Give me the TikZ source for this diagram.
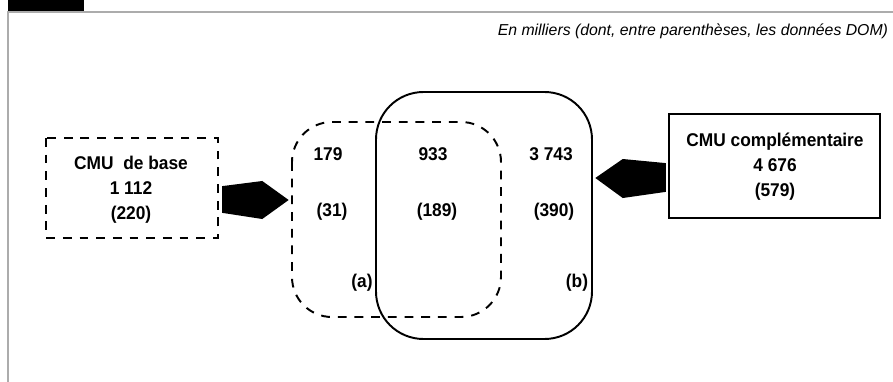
\documentclass[tikz,border=0pt]{standalone}
\usepackage{fontspec}
\setmainfont{Liberation Sans}
\newfontfamily\cmufont[FakeStretch=0.94]{Liberation Sans}
\usetikzlibrary{calc}

\tikzset{
  chiffre/.style={font=\cmufont\bfseries\fontsize{10.5}{14.2}\selectfont,align=center,inner sep=0pt},
  pointille/.style={dash pattern=on 5pt off 4.5pt},
  fleche/.style={fill=black,draw=black,line join=miter}
}

\begin{document}
\begin{tikzpicture}[x=0.02cm,y=-0.02cm,line width=1.1pt]
		\useasboundingbox (0,0) rectangle (893,382);
		% cadre
		\fill (8,0) rectangle (84,11);
		\draw[gray!65,line width=1pt] (8,382)--(8,12)--(893,12);
		\node[anchor=base east,inner sep=0pt,font=\itshape\fontsize{9}{11}\selectfont] (unite) at (889,35) {En milliers (dont, entre parenthèses, les données DOM)};
		% ensembles
		\draw[pointille,rounded corners=0.8cm] (292,122) rectangle (501,317);
		\draw[rounded corners=0.95cm] (376,92) rectangle (592,339);
		% boites
		\draw[pointille] (46,138) rectangle (218,238);
		\node[chiffre] (base) at (131,189.5) {CMU\ \ de base\\1 112\\(220)};
		\draw (669,114) rectangle (880,218);
		\node[chiffre] (compl) at (775,166.5) {CMU complémentaire\\4 676\\(579)};
		% fleches
		\draw[fleche] (223,187)--(262,182)--(287,200)--(262,218)--(223,212)--cycle;
		\draw[fleche] (665,164)--(623,160)--(597,178)--(623,197)--(665,191)--cycle;
		% effectifs
		\node[chiffre] (a1) at (328,154) {179};
		\node[chiffre] (ab1) at (433,154) {933};
		\node[chiffre] (b1) at (551,154) {3 743};
		\node[chiffre] (a2) at (332,212) {(31)};
		\node[chiffre] (ab2) at (437,212) {(189)};
		\node[chiffre] (b2) at (554,212) {(390)};
		\node[chiffre] (a) at (362,283) {(a)};
		\node[chiffre] (b) at (577,283) {(b)};
	\end{tikzpicture}
\end{document}
